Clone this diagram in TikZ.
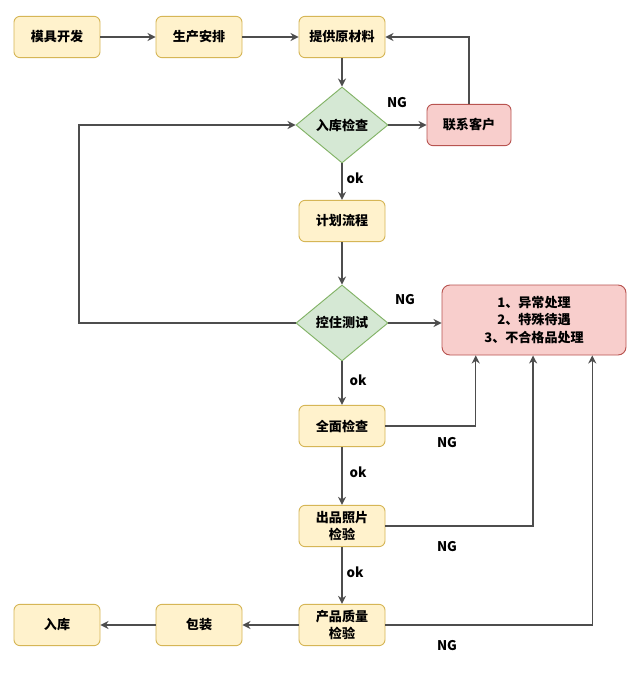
\documentclass[tikz,border=0pt]{standalone}
\usepackage{fontspec}
\newfontfamily\cjk{Noto Sans CJK SC}
\usepackage{xcolor}
\usepackage{tikz}
\usetikzlibrary{shapes.geometric, arrows.meta, calc}

\definecolor{stepfill}{HTML}{FFF2CC}
\definecolor{stepline}{HTML}{D6B656}
\definecolor{checkfill}{HTML}{D5E8D4}
\definecolor{checkline}{HTML}{82B366}
\definecolor{errfill}{HTML}{F8CECC}
\definecolor{errline}{HTML}{B85450}
\definecolor{flowline}{HTML}{4D4D4D}

\tikzset{
    stepbox/.style={draw=stepline, fill=stepfill, rounded corners=4.5pt, line width=0.7pt,
        minimum width=64.5pt, minimum height=31pt, align=center, inner sep=1pt},
    checkbox/.style={diamond, draw=checkline, fill=checkfill, line width=0.7pt,
        minimum width=69pt, minimum height=57pt, inner sep=0pt},
    errbox/.style={draw=errline, fill=errfill, rounded corners=6pt, line width=0.7pt, align=center},
    flow/.style={draw=flowline, line width=1.1pt, -{Stealth[length=6pt, width=6pt]}},
    lbl/.style={font=\cjk\bfseries\fontsize{10}{12}\selectfont}
}

\begin{document}
\begin{tikzpicture}[x=0.75pt, y=-0.75pt, font=\cjk\bfseries\fontsize{9.8}{13}\selectfont]
    \fill[white] (0,0) rectangle (640,673);

    % Top row
    \node[stepbox] (mjkf) at (57,37) {模具开发};
    \node[stepbox] (scap) at (199,37) {生产安排};
    \node[stepbox] (tgycl) at (342,37) {提供原材料};
    \draw[flow] (mjkf) -- (scap);
    \draw[flow] (scap) -- (tgycl);

    % Incoming check
    \node[checkbox] (rkjc) at (342,125) {入库检查};
    \node[errbox, rounded corners=4.5pt, minimum width=63pt, minimum height=31pt] (lxkh) at (469,125) {联系客户};
    \node[errbox, minimum width=138pt, minimum height=52.5pt] (ycl) at (534,320)
        {1、异常处理\\2、特殊待遇\\3、不合格品处理};
    \draw[flow] (tgycl) -- (rkjc);
    \draw[flow] (rkjc) -- (lxkh);
    \node[lbl] (ng1) at (397,103) {NG};
    \draw[flow] (lxkh.north) |- (tgycl.east);

    % Plan
    \node[stepbox] (jhlc) at (342,221) {计划流程};
    \draw[flow] (rkjc) -- (jhlc);
    \node[lbl] (ok1) at (355,178) {ok};

    % Control test
    \node[checkbox] (kzcs) at (342,323) {控住测试};
    \draw[flow] (jhlc) -- (kzcs);
    \coordinate (loop) at (79,125);
    \draw[flow] (kzcs.west) -| (loop) -- (rkjc.west);
    \draw[flow] (kzcs.east) -- (kzcs.east -| ycl.west);
    \node[lbl] (ng2) at (405,300) {NG};

    % Full check
    \node[stepbox] (qmjc) at (342,426) {全面检查};
    \draw[flow] (kzcs) -- (qmjc);
    \node[lbl] (ok2) at (358,380) {ok};
    \draw[flow] (qmjc.east) -| ($(ycl.south west)!0.185!(ycl.south east)$);
    \node[lbl] (ng3) at (447,443) {NG};

    % Photo check
    \node[stepbox] (cpzp) at (342,526) {出品照片\\检验};
    \draw[flow] (qmjc) -- (cpzp);
    \node[lbl] (ok3) at (358,472) {ok};
    \draw[flow] (cpzp.east) -| ($(ycl.south west)!0.495!(ycl.south east)$);
    \node[lbl] (ng4) at (447,547) {NG};

    % Quality check
    \node[stepbox] (cpzl) at (342,625) {产品质量\\检验};
    \draw[flow] (cpzp) -- (cpzl);
    \node[lbl] (ok4) at (355,572) {ok};
    \draw[flow] (cpzl.east) -| ($(ycl.south west)!0.815!(ycl.south east)$);
    \node[lbl] (ng5) at (447,646) {NG};

    % Bottom row
    \node[stepbox] (bz) at (199,625) {包装};
    \node[stepbox] (rk) at (57,625) {入库};
    \draw[flow] (cpzl) -- (bz);
    \draw[flow] (bz) -- (rk);
\end{tikzpicture}
\end{document}
